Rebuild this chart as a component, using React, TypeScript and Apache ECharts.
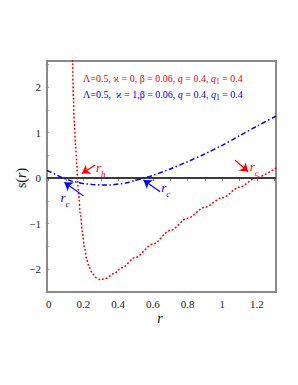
import React, { useEffect, useRef } from "react";
import * as echarts from "echarts";

// ---- axis ticks ----
const xLabelValues = [0, 0.2, 0.4, 0.6, 0.8, 1, 1.2];
const xTickValues = [0, 0.1, 0.2, 0.3, 0.4, 0.5, 0.6, 0.7, 0.8, 0.9, 1, 1.1, 1.2, 1.3];
const yLabelValues = [-2, -1, 0, 1, 2];
const yTickValues = [-2.5, -2, -1.5, -1, -0.5, 0, 0.5, 1, 1.5, 2, 2.5];

// ---- red curve (ϰ = 0), dotted ----
const redR = [0.134, 0.137, 0.142, 0.147, 0.155, 0.162, 0.166, 0.172, 0.182, 0.195, 0.205, 0.22, 0.235, 0.25, 0.27, 0.297, 0.33, 0.374, 0.42, 0.5, 0.6, 0.7, 0.8, 0.9, 1.0, 1.1, 1.2, 1.31];
const redS = [2.75, 2.56, 1.8, 1.23, 0.7, 0.28, -0.05, -0.35, -0.78, -1.2, -1.5, -1.8, -1.97, -2.08, -2.18, -2.23, -2.2, -2.1, -1.97, -1.74, -1.45, -1.15, -0.88, -0.64, -0.43, -0.2, 0.02, 0.22];

// ---- blue curve (ϰ = 1), dash-dot ----
const blueR = [-0.01, 0.05, 0.085, 0.12, 0.15, 0.2, 0.25, 0.3, 0.35, 0.4, 0.45, 0.5, 0.547, 0.6, 0.7, 0.8, 0.9, 1.0, 1.1, 1.2, 1.31];
const blueS = [0.17, 0.06, 0, -0.05, -0.08, -0.12, -0.14, -0.15, -0.15, -0.13, -0.1, -0.05, 0, 0.06, 0.2, 0.36, 0.53, 0.72, 0.93, 1.14, 1.36];

// ---- annotations (data coordinates) ----
const redArrows = [
  { from: [0.268, 0.285], to: [0.191, 0.1] },
  { from: [1.074, 0.39], to: [1.15, 0.14] },
];
const redLabels = [
  { at: [0.3, 0.24], sub: "h" },
  { at: [1.185, 0.26], sub: "c" },
];
const blueArrows = [
  { from: [0.2, -0.39], to: [0.09, -0.09] },
  { from: [0.642, -0.3], to: [0.546, -0.04] },
];
const blueLabels = [
  { at: [0.094, -0.43], sub: "c" },
  { at: [0.675, -0.2], sub: "c" },
];

const legendRed = "{n|Λ=0.5, ϰ = 0, β = 0.06, }{i|q}{n| = 0.4, }{i|q}{s|1}{n| = 0.4}";
const legendBlue = "{n|Λ=0.5,  ϰ = 1,β = 0.06, }{i|q}{n| = 0.4, }{i|q}{s|1}{n| = 0.4}";

const X_MIN = -0.01;
const X_MAX = 1.31;
const Y_MIN = -2.5;
const Y_MAX = 2.57;

const SERIF = "Times New Roman";

function zip(a: number[], b: number[]) {
  return a.map((v, i) => [v, b[i]]);
}

function labelRich(color: string) {
  return {
    r: { fontFamily: SERIF, fontStyle: "italic", fontSize: 13, color, lineHeight: 22, verticalAlign: "middle" },
    c: { fontFamily: SERIF, fontStyle: "italic", fontSize: 9, color, lineHeight: 10, verticalAlign: "bottom" },
  };
}

function legendRich(color: string) {
  return {
    n: { fontFamily: SERIF, fontSize: 10, fill: color, lineHeight: 15, verticalAlign: "middle" },
    i: { fontFamily: SERIF, fontStyle: "italic", fontSize: 10, fill: color, lineHeight: 15, verticalAlign: "middle" },
    s: { fontFamily: SERIF, fontSize: 7.5, fill: color, lineHeight: 7, verticalAlign: "bottom" },
  };
}

export default function App() {
  const ref = useRef<HTMLDivElement>(null);

  useEffect(() => {
    if (!ref.current) return;
    const chart = echarts.init(ref.current, undefined, { renderer: "svg" });
    const fmt = (v: number) => (v < 0 ? "\u2212" + String(Math.abs(v)) : String(v));

    chart.setOption({
      animation: false,
      backgroundColor: "#ffffff",
      textStyle: { fontFamily: SERIF },
      grid: {
        left: 47,
        right: 22,
        top: 61,
        bottom: 93,
        show: true,
        borderColor: "#8a8a8a",
        borderWidth: 2,
        backgroundColor: "transparent",
      },
      xAxis: {
        type: "value",
        min: X_MIN,
        max: X_MAX,
        splitLine: { show: false },
        axisLine: { show: false },
        axisTick: {
          show: true,
          customValues: xTickValues,
          length: 3,
          lineStyle: { color: "#8a8a8a", width: 1 },
        },
        axisLabel: {
          customValues: xLabelValues,
          formatter: fmt,
          fontFamily: SERIF,
          fontSize: 11,
          color: "#222",
          margin: 6,
        },
      },
      yAxis: {
        type: "value",
        min: Y_MIN,
        max: Y_MAX,
        splitLine: { show: false },
        axisLine: { show: false },
        axisTick: {
          show: true,
          customValues: yTickValues,
          length: 3,
          lineStyle: { color: "#8a8a8a", width: 1 },
        },
        axisLabel: {
          customValues: yLabelValues,
          formatter: fmt,
          fontFamily: SERIF,
          fontSize: 11,
          color: "#222",
          margin: 6,
        },
      },
      graphic: [
        {
          type: "text",
          x: 83,
          y: 78,
          silent: true,
          style: {
            text: legendRed,
            fontFamily: SERIF,
            fontSize: 10,
            fill: "#ff0000",
            verticalAlign: "middle",
            rich: legendRich("#ff0000"),
          },
        },
        {
          type: "text",
          x: 83,
          y: 94,
          silent: true,
          style: {
            text: legendBlue,
            fontFamily: SERIF,
            fontSize: 10,
            fill: "#0000ff",
            verticalAlign: "middle",
            rich: legendRich("#0000ff"),
          },
        },
        {
          type: "text",
          x: 160,
          y: 318,
          silent: true,
          style: {
            text: "r",
            fontFamily: SERIF,
            fontStyle: "italic",
            fontSize: 14,
            fill: "#111",
            align: "center",
            verticalAlign: "middle",
          },
        },
        {
          type: "text",
          x: 21,
          y: 178,
          rotation: Math.PI / 2,
          silent: true,
          style: {
            text: "{n|s(}{i|r}{n|)}",
            fontFamily: SERIF,
            fontSize: 14,
            fill: "#111",
            align: "center",
            verticalAlign: "middle",
            rich: {
              n: { fontFamily: SERIF, fontSize: 14, fill: "#111" },
              i: { fontFamily: SERIF, fontStyle: "italic", fontSize: 14, fill: "#111" },
            },
          },
        },
      ],
      series: [
        {
          name: "zero",
          type: "line",
          data: [[X_MIN, 0], [X_MAX, 0]],
          symbol: "none",
          silent: true,
          lineStyle: { color: "#3a3a3a", width: 2 },
          z: 1,
        },
        {
          name: "red",
          type: "line",
          data: zip(redR, redS),
          symbol: "none",
          smooth: 0.3,
          smoothMonotone: "x",
          clip: true,
          silent: true,
          lineStyle: { color: "#ff0000", width: 1.6, type: [0.5, 3.3], cap: "round" },
          z: 3,
          markLine: {
            silent: true,
            symbol: ["none", "arrow"],
            symbolSize: 8,
            label: { show: false },
            lineStyle: { color: "#ff0000", width: 1.2, type: "solid" },
            data: redArrows.map((a) => [{ coord: a.from }, { coord: a.to }]),
          },
          markPoint: {
            silent: true,
            symbol: "circle",
            symbolSize: 0,
            data: redLabels.map((l) => ({
              coord: l.at,
              label: {
                show: true,
                position: "inside",
                formatter: `{r|r}{c|${l.sub}}`,
                rich: labelRich("#ff0000"),
              },
            })),
          },
        },
        {
          name: "blue",
          type: "line",
          data: zip(blueR, blueS),
          symbol: "none",
          smooth: 0.3,
          clip: true,
          silent: true,
          lineStyle: { color: "#0000ff", width: 1.5, type: [5, 2.5, 1.5, 2.5] },
          z: 2,
          markLine: {
            silent: true,
            symbol: ["none", "arrow"],
            symbolSize: 8,
            label: { show: false },
            lineStyle: { color: "#0000ff", width: 1.2, type: "solid" },
            data: blueArrows.map((a) => [{ coord: a.from }, { coord: a.to }]),
          },
          markPoint: {
            silent: true,
            symbol: "circle",
            symbolSize: 0,
            data: blueLabels.map((l) => ({
              coord: l.at,
              label: {
                show: true,
                position: "inside",
                formatter: `{r|r}{c|${l.sub}}`,
                rich: labelRich("#0000ff"),
              },
            })),
          },
        },
      ],
    });

    return () => chart.dispose();
  }, []);

  return (
    <div
      ref={ref}
      style={{ position: "fixed", left: 0, top: 0, width: 298, height: 385, background: "#fff" }}
    />
  );
}
